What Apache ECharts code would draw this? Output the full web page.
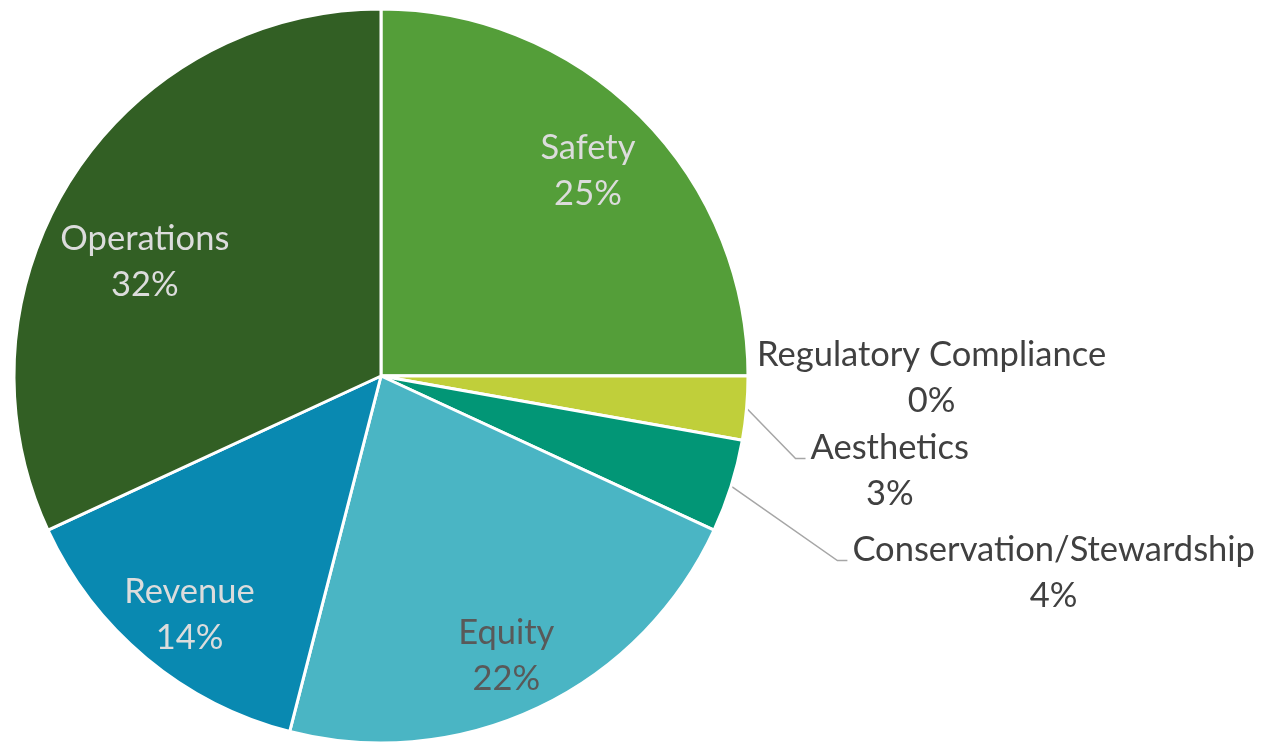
<!DOCTYPE html>
<html><head><meta charset="utf-8">
<script src="https://cdn.jsdelivr.net/npm/echarts@6/dist/echarts.min.js"></script>
<style>html,body{margin:0;padding:0;background:#fff}#c{width:1266px;height:743px}</style>
</head><body><div id="c"></div>
<script>
const categories = ['Safety', 'Regulatory Compliance', 'Aesthetics', 'Conservation/Stewardship', 'Equity', 'Revenue', 'Operations'];
const values = [25.0, 0, 2.8, 4.1, 22.1, 14.1, 31.9];
const sliceColors = ['#549E39', '#8AB833', '#C0CF3A', '#029676', '#4AB5C4', '#0989B1', '#325F24'];
const insideLabels = ['Safety', 'Equity', 'Revenue', 'Operations'];
const darkInsideLabels = ['Equity'];

const FONT = 'Lato';
const FS = 34.5;
const chart = echarts.init(document.getElementById('c'), null, {renderer: 'canvas'});

const pct = p => Math.round(p.percent) + '%';

// small nudges of label placement (labels only, not marks)
const outsideNudge = {'Regulatory Compliance': [-18, 2], 'Aesthetics': [37, 61], 'Conservation/Stewardship': [95, 82]};
const insideNudge = {'Operations': [20, 50], 'Safety': [-8, 10], 'Revenue': [3, 5], 'Equity': [-5, 5]};

const mainData = categories.map((name, i) => {
  const outside = !insideLabels.includes(name);
  return {
    name, value: values[i],
    itemStyle: {color: sliceColors[i]},
    label: {show: outside},
    labelLine: {show: outside && values[i] > 0}
  };
});

const overlayData = categories.map((name, i) => {
  const inside = insideLabels.includes(name);
  return {
    name, value: values[i],
    label: {show: inside, color: darkInsideLabels.includes(name) ? '#595959' : '#dcdcdc'}
  };
});

chart.setOption({
  backgroundColor: '#fff',
  animation: false,
  series: [
    {
      type: 'pie',
      center: [381, 376],
      radius: [0, 367],
      startAngle: 90,
      clockwise: true,
      avoidLabelOverlap: false,
      itemStyle: {borderColor: '#fff', borderWidth: 3},
      emphasis: {disabled: true},
      label: {
        position: 'outside',
        formatter: p => '{n|' + p.name + '}\n{n|' + pct(p) + '}',
        rich: {n: {fontFamily: FONT, fontSize: FS, color: '#404040', align: 'center', lineHeight: 46}},
        distanceToLabelLine: 2
      },
      labelLine: {length: 15, length2: 10, lineStyle: {color: '#a6a6a6', width: 1.5}},
      labelLayout: p => {
        const n = outsideNudge[categories[p.dataIndex]];
        if (!n) return {};
        const res = {dx: n[0], dy: n[1]};
        if (p.labelLinePoints && p.labelLinePoints.length) {
          const r = p.labelRect;
          const endX = r.x + n[0] - 5;
          const y = r.y + r.height / 2 + n[1] - 12;
          res.labelLinePoints = [p.labelLinePoints[0].slice(), [endX - 10, y], [endX, y]];
        }
        return res;
      },
      data: mainData
    },
    {
      type: 'pie',
      center: [381, 376],
      radius: [235, 367],
      startAngle: 90,
      clockwise: true,
      silent: true,
      itemStyle: {color: 'transparent', borderWidth: 0},
      emphasis: {disabled: true},
      label: {
        position: 'inside',
        fontFamily: FONT, fontSize: FS, lineHeight: 46,
        formatter: p => p.name + '\n' + pct(p)
      },
      labelLine: {show: false},
      labelLayout: p => {
        const n = insideNudge[categories[p.dataIndex]];
        return n ? {dx: n[0], dy: n[1]} : {};
      },
      data: overlayData
    }
  ]
});
</script></body></html>
